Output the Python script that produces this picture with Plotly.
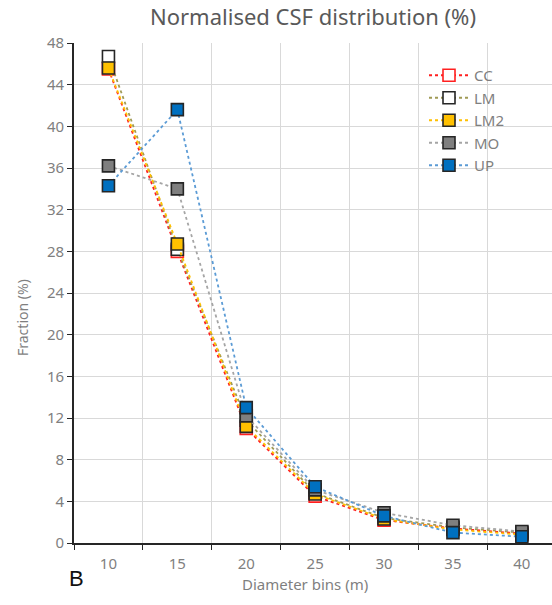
import plotly.graph_objects as go

# Diameter bins (m) and normalised CSF fractions (%) per site
bins = ["10", "15", "20", "25", "30", "35", "40"]
cc = [45.5, 28.0, 11.0, 4.5, 2.2, 1.4, 0.9]
lm = [46.7, 28.2, 11.8, 4.8, 2.4, 1.5, 1.0]
lm2 = [45.6, 28.7, 11.2, 4.7, 2.3, 1.3, 0.8]
mo = [36.2, 34.0, 12.2, 5.1, 2.9, 1.7, 1.1]
up = [34.3, 41.6, 13.0, 5.4, 2.6, 1.0, 0.6]
y_ticks = list(range(0, 49, 4))

W, H = 552, 605
L, T, B = 74, 43, 62
plot_w = W - L
cat_w = 68.9  # pixel width of one category slot

series = [
    ("CC", cc, "#FF2020", "white", "#FF2020"),
    ("LM", lm, "#A09A55", "white", "#262626"),
    ("LM2", lm2, "#FFC000", "#FFC000", "#262626"),
    ("MO", mo, "#A5A5A5", "#7F7F7F", "#262626"),
    ("UP", up, "#5B9BD5", "#0070C0", "#262626"),
]

fig = go.Figure()
for name, vals, lc, fill, edge in series:
    fig.add_trace(go.Scatter(
        x=bins, y=vals, name=name, mode="lines+markers",
        line=dict(color=lc, width=1.8, dash="dot"),
        marker=dict(symbol="square", size=12, color=fill,
                    line=dict(color=edge, width=1.6)),
    ))

grid = "#D9D9D9"
txt = "#7F7F7F"
font = "Noto Sans"

fig.update_layout(
    width=W, height=H,
    margin=dict(l=L, r=0, t=T, b=B),
    paper_bgcolor="white", plot_bgcolor="white",
    font=dict(family=font, color=txt, size=14),
    title=dict(text="Normalised CSF distribution (%)", x=313 / W, xanchor="center",
               y=1 - 17 / H, yanchor="middle",
               font=dict(family=font, size=22, color="#595959")),
    showlegend=True,
    legend=dict(x=(424 - L) / plot_w, y=(543 - 59) / 500, xanchor="left", yanchor="top",
                bgcolor="rgba(255,255,255,0)", font=dict(size=15, color=txt),
                itemwidth=40, tracegroupgap=0),
    xaxis=dict(
        type="category", range=[-0.5, -0.5 + plot_w / cat_w],
        tickson="boundaries", ticks="outside", ticklen=5, tickcolor="#262626",
        showgrid=True, gridcolor=grid, gridwidth=1.3,
        showline=True, linecolor="#262626", linewidth=1.6,
        tickfont=dict(size=15, color=txt), zeroline=False, ticklabelstandoff=6,
    ),
    yaxis=dict(
        range=[0, 48], tickvals=y_ticks, ticks="outside", ticklen=5, tickcolor="#262626",
        showgrid=True, gridcolor=grid, gridwidth=1.3,
        showline=True, linecolor="#262626", linewidth=1.6,
        tickfont=dict(size=15, color=txt), zeroline=False,
    ),
)

fig.add_annotation(text="Fraction (%)", textangle=-90, xref="paper", yref="paper",
                   x=(22 - L) / plot_w, y=(543 - 318) / 500, xanchor="center", yanchor="middle",
                   showarrow=False, font=dict(family=font, size=14, color=txt))
fig.add_annotation(text="Diameter bins (m)", xref="paper", yref="paper",
                   x=(305 - L) / plot_w, y=(543 - 584) / 500, xanchor="center", yanchor="middle",
                   showarrow=False, font=dict(family=font, size=15, color=txt))
fig.add_annotation(text="B", xref="paper", yref="paper",
                   x=(76 - L) / plot_w, y=(543 - 578) / 500, xanchor="center", yanchor="middle",
                   showarrow=False, font=dict(family="Liberation Sans", size=22, color="#111111"))

fig.write_html("out.html")
